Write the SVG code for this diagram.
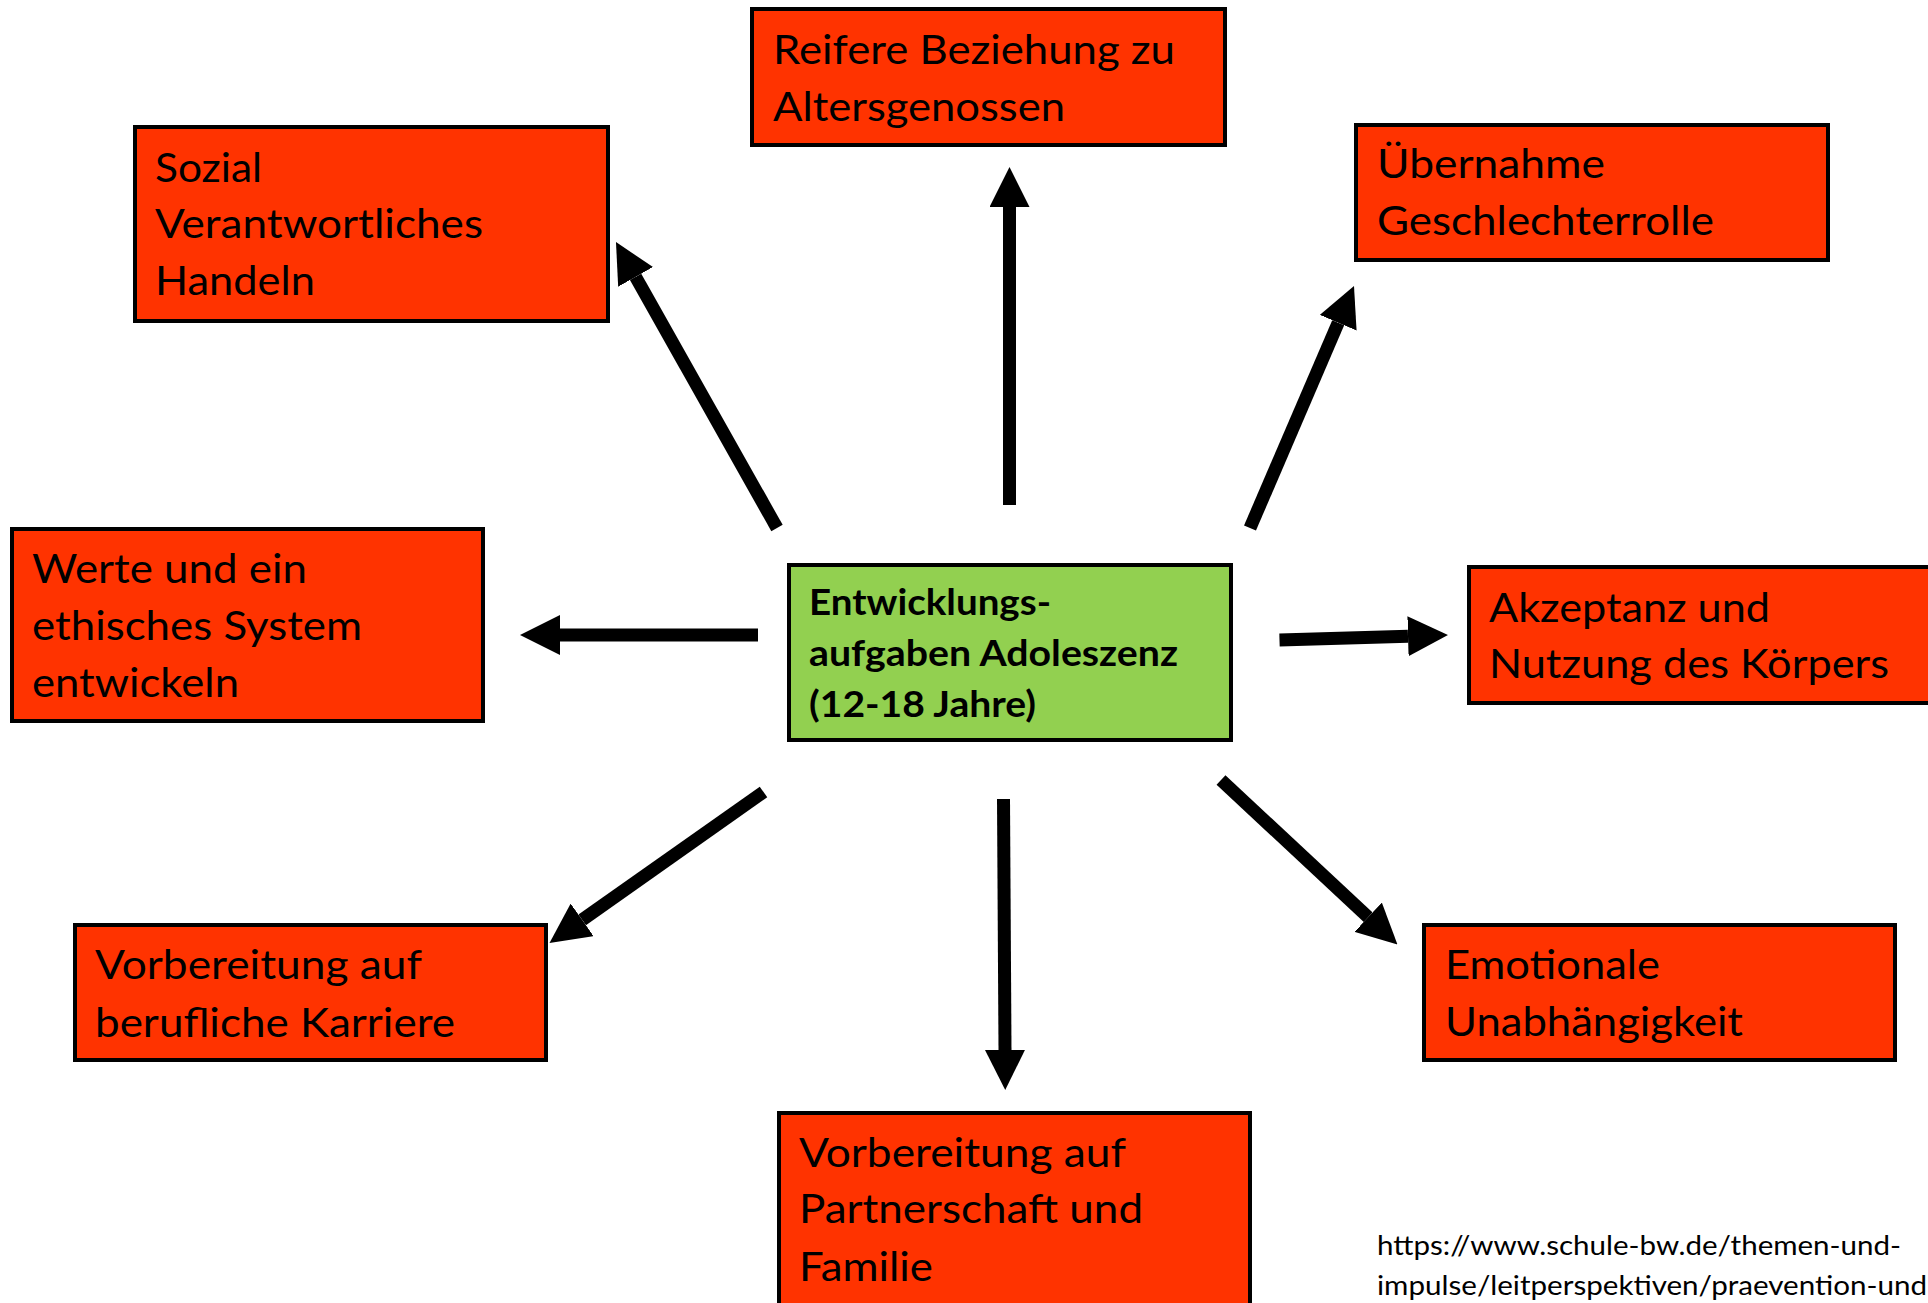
<svg xmlns="http://www.w3.org/2000/svg" width="1928" height="1303" viewBox="0 0 1928 1303">
<style>
.box{fill:#FF3300;stroke:#000;stroke-width:4}
.center{fill:#92D050;stroke:#000;stroke-width:4}
.t{font-family:Lato,"Open Sans","Liberation Sans",sans-serif;font-size:41px;fill:#000}
.b{font-family:Lato,"Open Sans","Liberation Sans",sans-serif;font-size:36px;font-weight:bold;fill:#000}
.u{font-family:Lato,"Open Sans","Liberation Sans",sans-serif;font-size:27px;fill:#000}
.arr{stroke:#000;stroke-width:13;fill:none;marker-end:url(#ah)}
</style>
<defs>
<marker id="ah" markerUnits="userSpaceOnUse" markerWidth="40" markerHeight="40" viewBox="0 0 40 40" refX="0" refY="20" orient="auto">
<path d="M0,0 L40,20 L0,40 z" fill="#000"/>
</marker>
</defs>
<rect width="1928" height="1303" fill="#fff"/>
<g id="connectors">
<line class="arr" x1="1009.5" y1="505" x2="1009.5" y2="207"/>
<line class="arr" x1="777" y1="528" x2="635.6" y2="276.9"/>
<line class="arr" x1="1250" y1="528" x2="1338.2" y2="322.7"/>
<line class="arr" x1="758" y1="635" x2="560" y2="635"/>
<line class="arr" x1="1279.5" y1="640" x2="1408" y2="636.2"/>
<line class="arr" x1="763.5" y1="792" x2="582.2" y2="919.9"/>
<line class="arr" x1="1003.5" y1="799" x2="1005" y2="1050"/>
<line class="arr" x1="1221" y1="780" x2="1368.2" y2="917.2"/>
</g>
<g id="node-center">
<rect class="center" x="789" y="565" width="442" height="175"/>
<text class="b" x="809" y="615" textLength="242" lengthAdjust="spacingAndGlyphs">Entwicklungs-</text>
<text class="b" x="809" y="666" textLength="369" lengthAdjust="spacingAndGlyphs">aufgaben Adoleszenz</text>
<text class="b" x="809" y="717" textLength="227" lengthAdjust="spacingAndGlyphs">(12-18 Jahre)</text>
</g>
<g id="node-reifere">
<rect class="box" x="752" y="9" width="473" height="136"/>
<text class="t" x="773" y="64" textLength="402" lengthAdjust="spacingAndGlyphs">Reifere Beziehung zu</text>
<text class="t" x="773" y="121" textLength="292" lengthAdjust="spacingAndGlyphs">Altersgenossen</text>
</g>
<g id="node-sozial">
<rect class="box" x="135" y="127" width="473" height="194"/>
<text class="t" x="155" y="182" textLength="107" lengthAdjust="spacingAndGlyphs">Sozial</text>
<text class="t" x="155" y="238" textLength="328" lengthAdjust="spacingAndGlyphs">Verantwortliches</text>
<text class="t" x="155" y="295" textLength="160" lengthAdjust="spacingAndGlyphs">Handeln</text>
</g>
<g id="node-uebernahme">
<rect class="box" x="1356" y="125" width="472" height="135"/>
<text class="t" x="1377" y="178" textLength="228" lengthAdjust="spacingAndGlyphs">Übernahme</text>
<text class="t" x="1377" y="235" textLength="337" lengthAdjust="spacingAndGlyphs">Geschlechterrolle</text>
</g>
<g id="node-werte">
<rect class="box" x="12" y="529" width="471" height="192"/>
<text class="t" x="32" y="583" textLength="275" lengthAdjust="spacingAndGlyphs">Werte und ein</text>
<text class="t" x="32" y="640" textLength="330" lengthAdjust="spacingAndGlyphs">ethisches System</text>
<text class="t" x="32" y="697" textLength="207" lengthAdjust="spacingAndGlyphs">entwickeln</text>
</g>
<g id="node-akzeptanz">
<rect class="box" x="1469" y="567" width="500" height="136"/>
<text class="t" x="1489" y="622" textLength="281" lengthAdjust="spacingAndGlyphs">Akzeptanz und</text>
<text class="t" x="1489" y="678" textLength="400" lengthAdjust="spacingAndGlyphs">Nutzung des Körpers</text>
</g>
<g id="node-karriere">
<rect class="box" x="75" y="925" width="471" height="135"/>
<text class="t" x="95" y="979" textLength="327" lengthAdjust="spacingAndGlyphs">Vorbereitung auf</text>
<text class="t" x="95" y="1037" textLength="360" lengthAdjust="spacingAndGlyphs">berufliche Karriere</text>
</g>
<g id="node-partnerschaft">
<rect class="box" x="779" y="1113" width="471" height="250"/>
<text class="t" x="799" y="1167" textLength="327" lengthAdjust="spacingAndGlyphs">Vorbereitung auf</text>
<text class="t" x="799" y="1223" textLength="344" lengthAdjust="spacingAndGlyphs">Partnerschaft und</text>
<text class="t" x="799" y="1281" textLength="134" lengthAdjust="spacingAndGlyphs">Familie</text>
</g>
<g id="node-emotionale">
<rect class="box" x="1424" y="925" width="471" height="135"/>
<text class="t" x="1445" y="979" textLength="215" lengthAdjust="spacingAndGlyphs">Emotionale</text>
<text class="t" x="1445" y="1036" textLength="298" lengthAdjust="spacingAndGlyphs">Unabhängigkeit</text>
</g>
<g id="source">
<text class="u" x="1377" y="1255" textLength="524" lengthAdjust="spacingAndGlyphs">https://www.schule-bw.de/themen-und-</text>
<text class="u" x="1377" y="1295" textLength="550" lengthAdjust="spacingAndGlyphs">impulse/leitperspektiven/praevention-und</text>
</g>
</svg>
